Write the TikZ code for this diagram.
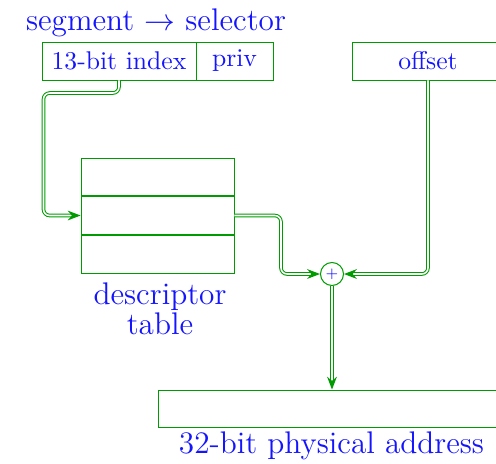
\documentclass[tikz,border=0pt]{standalone}
\usetikzlibrary{arrows.meta}
\definecolor{wire}{RGB}{0,155,0}
\definecolor{ink}{RGB}{20,20,255}
\def\pxu{0.39pt}
\begin{document}
\begin{tikzpicture}[x=\pxu, y=-\pxu,
  box/.style={draw=wire, line width=0.35pt, minimum height=38*\pxu, inner sep=0pt,
    font=\fontsize{10}{12}\selectfont, text=ink},
  bigtext/.style={text=ink, font=\fontsize{12.2}{14}\selectfont, inner sep=0pt},
  wirepath/.style={draw=wire, line width=0.4pt, double=white, double distance=0.6pt,
    rounded corners=2.4pt},
  tip/.style={-{Stealth[length=5pt,width=3.8pt]}}
]
\useasboundingbox (0,0) rectangle (496,463);

% selector fields and offset
\node[bigtext, anchor=base] (title) at (156,30) {segment $\rightarrow$ selector};
\node[box, minimum width=154*\pxu] (idx) at (119,61) {13-bit index};
\node[box, minimum width=77*\pxu] (priv) at (234.5,61) {priv};
\node[box, minimum width=152*\pxu] (off) at (428,61) {offset};

% descriptor table
\node[box, minimum width=153*\pxu, minimum height=38*\pxu] (row1) at (157.5,177) {};
\node[box, minimum width=153*\pxu, minimum height=39*\pxu] (row2) at (157.5,215.5) {};
\node[box, minimum width=153*\pxu, minimum height=38*\pxu] (row3) at (157.5,254) {};
\draw[wire, line width=0.8pt] (row1.south west) -- (row1.south east)
  (row3.north west) -- (row3.north east);
\node[bigtext, align=center, font=\fontsize{12.2}{9.75}\selectfont] (dlabel) at (160,309) {descriptor\\table};

% adder and physical address
\node[draw=wire, circle, line width=0.4pt, minimum size=23*\pxu, inner sep=0pt,
  text=ink, font=\fontsize{5}{6}\selectfont] (sum) at (332,274) {+};
\node[box, minimum width=348*\pxu, minimum height=37*\pxu] (phys) at (332,408.5) {};
\node[bigtext, anchor=base] (plabel) at (331.5,453) {32-bit physical address};

% connectors
\coordinate (bendA) at (43.5,93);
\coordinate (bendB) at (281,0);
\draw[wirepath, tip] (idx.south) -- (idx.south |- bendA) -- (bendA)
  -- (bendA |- row2.west) -- (row2.west);
\draw[wirepath, tip] (row2.east) -- (bendB |- row2.east) -- (bendB |- sum.west) -- (sum.west);
\draw[wirepath, tip] (off.south) -- (off.south |- sum.east) -- (sum.east);
\draw[wirepath, tip] (sum.south) -- (phys.north);
\end{tikzpicture}
\end{document}
